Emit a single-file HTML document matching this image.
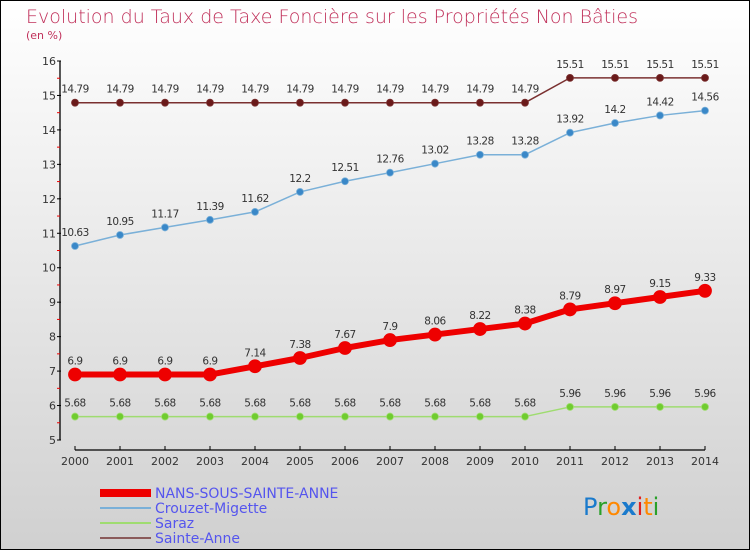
<!DOCTYPE html>
<html><head><meta charset="utf-8"><style>
html,body{margin:0;padding:0}
body{width:750px;height:550px;overflow:hidden}
svg{display:block;font-family:"DejaVu Sans","Liberation Sans",sans-serif}
</style></head><body>
<svg id="chart" width="750" height="550" viewBox="0 0 750 550">
<defs><linearGradient id="bg" x1="0" y1="0" x2="0" y2="1"><stop offset="0" stop-color="#ffffff"/><stop offset="1" stop-color="#d0d0d0"/></linearGradient></defs>
<rect x="0.5" y="0.5" width="749" height="549" fill="url(#bg)" stroke="#000"/>
<text x="26" y="23" font-size="19" fill="#c0305a" font-weight="300">Evolution du Taux de Taxe Foncière sur les Propriétés Non Bâties</text>
<text x="26" y="39" font-size="11" fill="#c0305a">(en %)</text>
<g id="axes"></g>
<g id="series"></g>
<g id="legend">
<rect x="100" y="489" width="51" height="8" fill="#e00"/>
<text x="155" y="498" font-size="14" fill="#5555ee">NANS-SOUS-SAINTE-ANNE</text>
<rect x="100" y="507" width="51" height="2" fill="#7ab0d8"/>
<text x="155" y="513" font-size="14" fill="#5555ee">Crouzet-Migette</text>
<rect x="100" y="522" width="51" height="2" fill="#9fdc70"/>
<text x="155" y="528" font-size="14" fill="#5555ee">Saraz</text>
<rect x="100" y="537" width="51" height="2" fill="#8a5a5a"/>
<text x="155" y="543" font-size="14" fill="#5555ee">Sainte-Anne</text>
</g>
<text x="583" y="515" font-size="24" font-family="'DejaVu Sans',sans-serif"><tspan fill="#1a7acc">P</tspan><tspan fill="#2aa02a">r</tspan><tspan fill="#ff8800">o</tspan><tspan fill="#1a7acc" font-weight="bold">x</tspan><tspan fill="#e02020">i</tspan><tspan fill="#ff8800">t</tspan><tspan fill="#2aa02a">i</tspan></text>
</svg>
<script>
const years=[2000,2001,2002,2003,2004,2005,2006,2007,2008,2009,2010,2011,2012,2013,2014];
const yTicks=[5,6,7,8,9,10,11,12,13,14,15,16];
const nansValues=[6.9,6.9,6.9,6.9,7.14,7.38,7.67,7.9,8.06,8.22,8.38,8.79,8.97,9.15,9.33];
const nansLabels=["6.9","6.9","6.9","6.9","7.14","7.38","7.67","7.9","8.06","8.22","8.38","8.79","8.97","9.15","9.33"];
const crouzetValues=[10.63,10.95,11.17,11.39,11.62,12.2,12.51,12.76,13.02,13.28,13.28,13.92,14.2,14.42,14.56];
const crouzetLabels=["10.63","10.95","11.17","11.39","11.62","12.2","12.51","12.76","13.02","13.28","13.28","13.92","14.2","14.42","14.56"];
const sarazValues=[5.68,5.68,5.68,5.68,5.68,5.68,5.68,5.68,5.68,5.68,5.68,5.96,5.96,5.96,5.96];
const sarazLabels=["5.68","5.68","5.68","5.68","5.68","5.68","5.68","5.68","5.68","5.68","5.68","5.96","5.96","5.96","5.96"];
const annValues=[14.79,14.79,14.79,14.79,14.79,14.79,14.79,14.79,14.79,14.79,14.79,15.51,15.51,15.51,15.51];
const annLabels=["14.79","14.79","14.79","14.79","14.79","14.79","14.79","14.79","14.79","14.79","14.79","15.51","15.51","15.51","15.51"];

const NS="http://www.w3.org/2000/svg";
const x=i=>75+i*45;
const y=v=>440-(v-5)*(379/11);
function mk(tag,attrs,parent){const e=document.createElementNS(NS,tag);for(const k in attrs)e.setAttribute(k,attrs[k]);parent.appendChild(e);return e;}
const axes=document.getElementById('axes');
let e;
e=mk('line',{x1:60,y1:y(16),x2:60,y2:y(5),stroke:'#000','stroke-width':1.3},axes);


e=mk('line',{x1:x(0),y1:450,x2:x(14),y2:450,stroke:'#000','stroke-width':1.3},axes);


yTicks.forEach(v=>{
 e=mk('line',{x1:57,y1:y(v),x2:61,y2:y(v),stroke:'#000'},axes);
 
 
 if(v<16){e=mk('line',{x1:57,y1:y(v+0.5),x2:60,y2:y(v+0.5),stroke:'#e00'},axes);
 
 }
 e=mk('text',{x:56,y:y(v)+4,'font-size':11,fill:'#333','text-anchor':'end'},axes);
 e.textContent=v;
 
 
});
years.forEach((yr,i)=>{
 e=mk('line',{x1:x(i),y1:446,x2:x(i),y2:450,stroke:'#000'},axes);
 
 
 e=mk('text',{x:x(i),y:465,'font-size':11,fill:'#333','text-anchor':'middle'},axes);
 e.textContent=yr;
 
 
});
const sg=document.getElementById('series');
function series(name,vals,labels,color,dot,w,r){
 const g=mk('g',{},sg);
 
 
 const p=mk('polyline',{points:vals.map((v,i)=>x(i)+','+y(v)).join(' '),fill:'none',stroke:color,'stroke-width':w,'stroke-linejoin':'round'},g);
 
 
 vals.forEach((v,i)=>{
  const c=mk('circle',{cx:x(i),cy:y(v),r:r,fill:dot,stroke:color,'stroke-width':0.8},g);
  
  
  const t=mk('text',{x:x(i),y:y(v)-10,'font-size':10.5,fill:'#333','text-anchor':'middle','letter-spacing':'-0.5'},g);
  t.textContent=labels[i];
  
  
 });
}
series('sainte-anne',annValues,annLabels,'#7a3030','#6a1a1a',1.5,3.5);
series('crouzet-migette',crouzetValues,crouzetLabels,'#7ab0d8','#3a88c8',1.5,3.5);
series('saraz',sarazValues,sarazLabels,'#9fdc70','#70cc30',1.5,3.5);
series('nans-sous-sainte-anne',nansValues,nansLabels,'#e00','#e00',6,6.5);
</script>
</body></html>
